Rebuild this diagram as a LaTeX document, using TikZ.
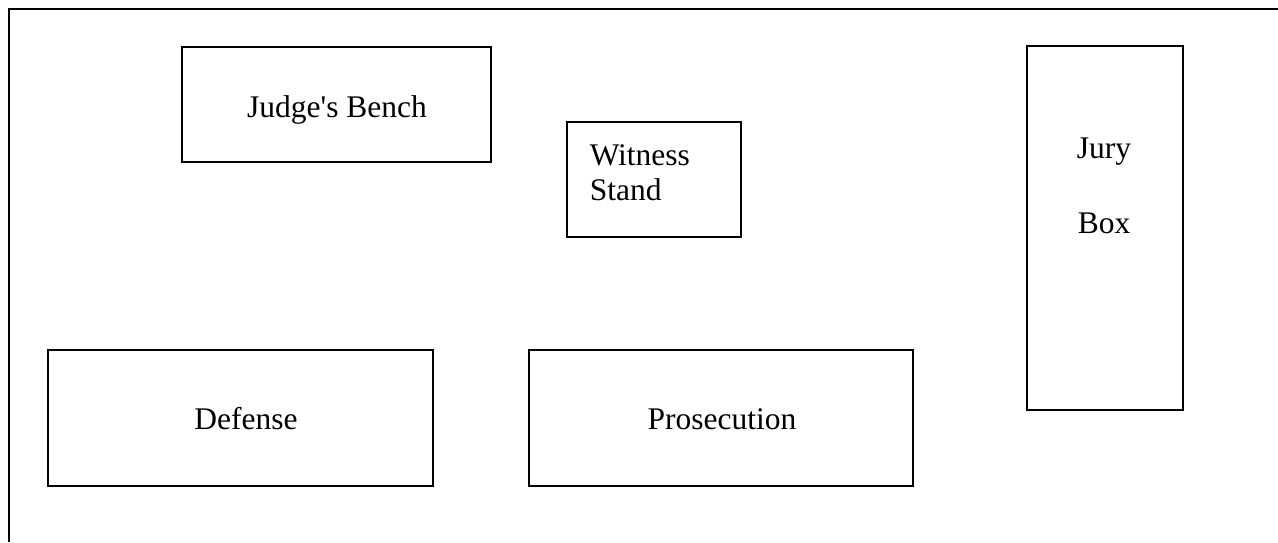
\documentclass[tikz,border=0pt]{standalone}
\usepackage{fontspec}
\setmainfont{Liberation Serif}
\begin{document}
\begin{tikzpicture}[x=1pt,y=-1pt,line width=1.5pt,
  room/.style={draw, rectangle, inner sep=0pt},
  lbl/.style={font=\fontsize{31.5}{35}\selectfont, inner sep=0pt, anchor=base}]
\useasboundingbox (0,0) rectangle (1278,542);
% outer frame (only top and left edges visible)
\coordinate (fbl) at (9,542);
\coordinate (ftl) at (9,9);
\coordinate (ftr) at (1278,9);
\draw (fbl) -- (ftl) -- (ftr);
% rooms
\node[room, minimum width=309pt, minimum height=115pt] (judge) at (336.5,104.5) {};
\node[room, minimum width=174pt, minimum height=115pt] (witness) at (654,179.5) {};
\node[room, minimum width=156pt, minimum height=364pt] (jury) at (1105,228) {};
\node[room, minimum width=385pt, minimum height=136pt] (defense) at (240.5,418) {};
\node[room, minimum width=384pt, minimum height=136pt] (prosecution) at (721,418) {};
% labels
\node[lbl] (judgetxt) at (337,117) {Judge\textquotesingle s Bench};
\node[lbl, anchor=base west] (witnesstxt) at (589,165) {Witness};
\node[lbl, anchor=base west] (standtxt) at (589,200) {Stand};
\node[lbl] (jurytxt) at (1104,158) {Jury};
\node[lbl] (boxtxt) at (1104,233) {Box};
\node[lbl] (defensetxt) at (246,429) {Defense};
\node[lbl] (prosecutiontxt) at (722,429) {Prosecution};
\end{tikzpicture}
\end{document}
